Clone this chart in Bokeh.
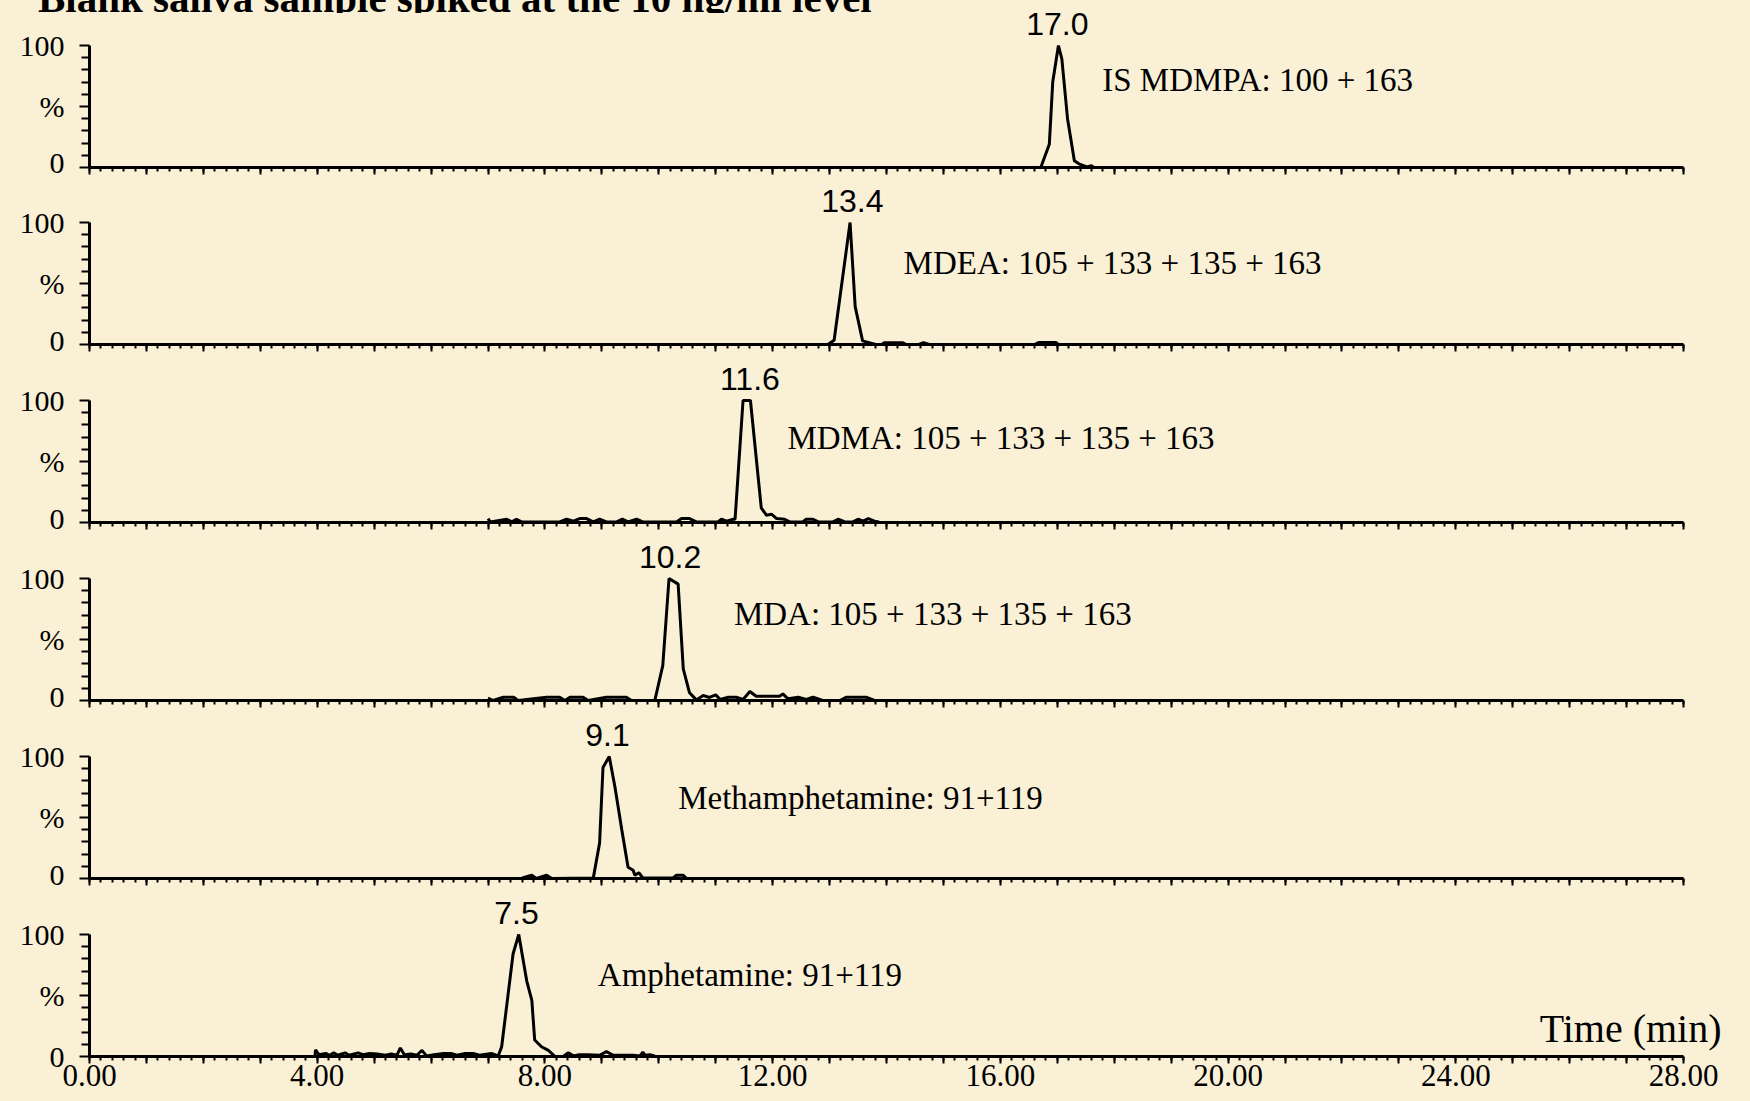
from bokeh.plotting import figure
from bokeh.layouts import column
from bokeh.models import FixedTicker, Range1d, Label, Div, GlobalInlineStyleSheet
from bokeh.embed import file_html
from bokeh.resources import INLINE

# ---------------- data ----------------
TITLE = "Blank saliva sample spiked at the 10 ng/ml level"

compounds = [
    "IS MDMPA: 100 + 163",
    "MDEA: 105 + 133 + 135 + 163",
    "MDMA: 105 + 133 + 135 + 163",
    "MDA: 105 + 133 + 135 + 163",
    "Methamphetamine: 91+119",
    "Amphetamine: 91+119",
]
peak_rt = [17.0, 13.4, 11.6, 10.2, 9.1, 7.5]
peak_labels = ["17.0", "13.4", "11.6", "10.2", "9.1", "7.5"]

# retention time (min) / relative intensity (%)
t_mdmpa = [16.71, 16.86, 16.92, 17.02, 17.08, 17.18, 17.30, 17.38, 17.52, 17.60, 17.64]
i_mdmpa = [0, 19, 70, 100, 89, 40, 5.5, 3, 0.5, 1.5, 0]

t_mdea = [12.97, 13.08, 13.36, 13.45, 13.58, 13.81, 13.92, 13.96, 14.28, 14.35, 14.57,
          14.65, 14.75, 16.60, 16.67, 16.98, 17.02]
i_mdea = [0, 3.5, 100, 31, 3, 0, 0, 1.5, 1.5, 0, 0, 1.6, 0, 0, 1.6, 1.6, 0]

t_mdma = [7.00, 7.04, 7.33, 7.42, 7.50, 7.59, 8.26, 8.38, 8.50, 8.61, 8.73, 8.85, 8.96, 9.08,
          9.26, 9.36, 9.46, 9.61, 9.72, 10.31, 10.40, 10.54, 10.66, 11.04, 11.10, 11.19, 11.31,
          11.34, 11.48, 11.61, 11.80, 11.89, 11.98, 12.07, 12.21, 12.30, 12.53, 12.59, 12.71,
          12.80, 13.06, 13.15, 13.27, 13.41, 13.50, 13.59, 13.68, 13.79, 13.87]
i_mdma = [3.2, 0.5, 2.7, 0.5, 2.7, 0.5, 0.5, 2.7, 1.1, 3.2, 3.2, 0.5, 2.7, 0.5,
          0.5, 2.7, 0.5, 2.7, 0.5, 0.5, 3.2, 3.2, 0.5, 0.5, 2.7, 1.1, 2.7,
          2.7, 100, 100, 12, 6, 6.8, 3.2, 2.7, 0.5, 0.5, 2.7, 2.7,
          0.5, 0.5, 2.7, 0.5, 0.5, 2.7, 1.1, 3.2, 1.1, 0.5]

t_mda = [7.00, 7.09, 7.27, 7.45, 7.53, 8.03, 8.26, 8.35, 8.44, 8.67, 8.76, 9.08, 9.43, 9.52,
         9.93, 10.07, 10.18, 10.34, 10.43, 10.54, 10.66, 10.78, 10.89, 11.00, 11.08, 11.22,
         11.36, 11.48, 11.60, 11.71, 12.12, 12.18, 12.27, 12.45, 12.59, 12.71, 12.88, 13.18,
         13.29, 13.64, 13.79]
i_mda = [1.9, 0, 2.7, 2.7, 0, 2.7, 2.7, 0, 2.7, 2.7, 0, 2.7, 2.7, 0,
         0, 28.6, 100, 95.4, 25.9, 6.3, 0.5, 4.1, 2.5, 4.6, 0.8, 2.7,
         2.7, 0.8, 7.4, 3.5, 3.5, 5.4, 1.4, 2.7, 0.8, 2.7, 0, 0,
         2.7, 2.7, 0]

t_meth = [7.60, 7.77, 7.85, 8.03, 8.12, 8.85, 8.96, 9.02, 9.13, 9.23, 9.35, 9.46, 9.55,
          9.58, 9.65, 9.72, 10.25, 10.31, 10.43, 10.49]
i_meth = [0.5, 2.7, 0, 2.7, 0, 0.5, 29, 91, 100, 75, 40, 9.3, 6.7,
          2.7, 4.8, 0.5, 0.5, 2.7, 2.7, 0]

t_amph = [3.96, 3.97, 4.03, 4.15, 4.22, 4.29, 4.36, 4.49, 4.56, 4.72, 4.80, 4.92, 5.05, 5.20,
          5.30, 5.40, 5.46, 5.53, 5.65, 5.75, 5.84, 5.92, 6.05, 6.22, 6.35, 6.45, 6.60, 6.74,
          6.85, 7.06, 7.18, 7.24, 7.44, 7.54, 7.68, 7.77, 7.82, 7.94, 8.06, 8.18, 8.32, 8.41,
          8.50, 8.60, 8.75, 8.96, 9.08, 9.20, 9.40, 9.55, 9.67, 9.72, 9.76, 9.84, 9.93]
i_amph = [0, 5.5, 1.5, 2.5, 1, 3, 1, 3, 1, 3, 1.5, 2.5, 2, 1,
          2, 1, 7, 1.5, 2, 1, 5, 0.5, 1.5, 2.5, 2.5, 1, 2.5, 2.5,
          1, 2.5, 0.5, 8, 84, 100, 62, 46, 13.5, 8, 5, 0, 0, 3,
          0.5, 1.5, 1.5, 1, 4, 1, 1, 1, 0.5, 3.5, 1, 1.5, 0.5]

traces = [(t_mdmpa, i_mdmpa), (t_mdea, i_mdea), (t_mdma, i_mdma),
          (t_mda, i_mda), (t_meth, i_meth), (t_amph, i_amph)]

X_MIN, X_MAX = 0, 28
x_major = list(range(0, 29))
x_minor = [round(i * 0.2, 1) for i in range(0, 141)]
x_labels = {v: (f"{v:.2f}" if v % 4 == 0 else "") for v in x_major}
y_major = [0, 50, 100]
y_minor = [10, 20, 30, 40, 60, 70, 80, 90]
y_labels = {0: "0", 50: "%", 100: "100"}
x_title = "Time (min)"

# ---------------- layout / style ----------------
BG = "#F9F0D6"
PX_PER_PCT = 1.22            # vertical pixels per % intensity
FIG_W = 1748
LEFT = 89                    # page x of t = 0
PX_PER_MIN = (1683 - 89) / 28.0
X_END = (FIG_W - LEFT) / PX_PER_MIN
TITLE_H = 13                 # strip holding the (cut-off) title, overlapped by panel 1
frame_heights = [167, 166, 166, 166, 166, 166]
bottom_borders = [11, 12, 12, 12, 12, 44]
name_pos = [(17.79, 72), (14.30, 67), (12.26, 69), (11.32, 70.5), (10.34, 66), (8.93, 67)]
PEAK_LABEL_OFFSET = 22
SERIF = "Liberation Serif"
SANS = "Liberation Sans"

title_div = Div(
    text=(f'<div style="position:relative;width:{FIG_W}px;height:{TITLE_H}px;overflow:hidden;">'
          f'<span style="position:absolute;left:38px;top:-23px;'
          f"font-family:'Liberation Serif';font-weight:bold;font-size:41px;"
          f'line-height:42px;white-space:nowrap;color:black;">{TITLE}</span></div>'),
    width=FIG_W, height=TITLE_H, margin=(0, 0, -TITLE_H, 0))

figs = [title_div]
for k in range(6):
    fh = frame_heights[k]
    bb = bottom_borders[k]
    last = (k == 5)
    fill = None if k == 0 else BG
    p = figure(width=FIG_W, height=fh + bb,
               x_range=Range1d(X_MIN, X_END), y_range=Range1d(0, fh / PX_PER_PCT),
               output_backend="svg", toolbar_location=None,
               min_border_left=LEFT, min_border_right=0, min_border_top=0,
               min_border_bottom=bb,
               background_fill_color=fill, border_fill_color=fill,
               outline_line_color=None)
    p.grid.visible = False

    xa = p.xaxis[0]
    xa.ticker = FixedTicker(ticks=x_major, minor_ticks=x_minor)
    xa.bounds = (X_MIN, X_MAX)
    xa.axis_line_width = 3
    xa.axis_line_color = "black"
    xa.major_tick_line_width = 2
    xa.minor_tick_line_width = 2
    xa.major_tick_out = 7
    xa.major_tick_in = 0
    xa.minor_tick_out = 4
    xa.minor_tick_in = 0
    if last:
        xa.major_label_overrides = x_labels
        xa.major_label_text_font = SERIF
        xa.major_label_text_font_size = "31px"
        xa.major_label_text_color = "black"
        xa.major_label_standoff = 1
    else:
        xa.major_label_overrides = {v: "" for v in x_major}
        xa.major_label_text_font_size = "0px"
        xa.major_label_standoff = 0

    ya = p.yaxis[0]
    ya.ticker = FixedTicker(ticks=y_major, minor_ticks=y_minor)
    ya.bounds = (0, 100)
    ya.axis_line_width = 3
    ya.axis_line_color = "black"
    ya.major_tick_line_width = 2
    ya.minor_tick_line_width = 2
    ya.major_tick_out = 10
    ya.major_tick_in = 0
    ya.minor_tick_out = 8
    ya.minor_tick_in = 0
    ya.major_label_overrides = y_labels
    ya.major_label_text_font = SERIF
    ya.major_label_text_font_size = "30px"
    ya.major_label_text_color = "black"
    ya.major_label_standoff = 15

    t, inten = traces[k]
    p.line(t, inten, line_color="black", line_width=3)

    p.add_layout(Label(x=peak_rt[k], y=100, y_offset=PEAK_LABEL_OFFSET, text=peak_labels[k],
                       text_align="center", text_baseline="middle",
                       text_font=SANS, text_font_size="32px", text_color="black"))
    nx, ny = name_pos[k]
    p.add_layout(Label(x=nx, y=ny, text=compounds[k], text_align="left",
                       text_baseline="middle", text_font=SERIF,
                       text_font_size="33px", text_color="black"))
    if last:
        p.add_layout(Label(x=X_MAX, y=0, x_offset=38, y_offset=28, text=x_title,
                           text_align="right", text_baseline="middle",
                           text_font=SERIF, text_font_size="40px", text_color="black"))
    figs.append(p)

layout = column(*figs, spacing=0,
                stylesheets=[GlobalInlineStyleSheet(css=f"body {{ background-color: {BG}; }}")])

open("out.html", "w").write(file_html(layout, INLINE))
